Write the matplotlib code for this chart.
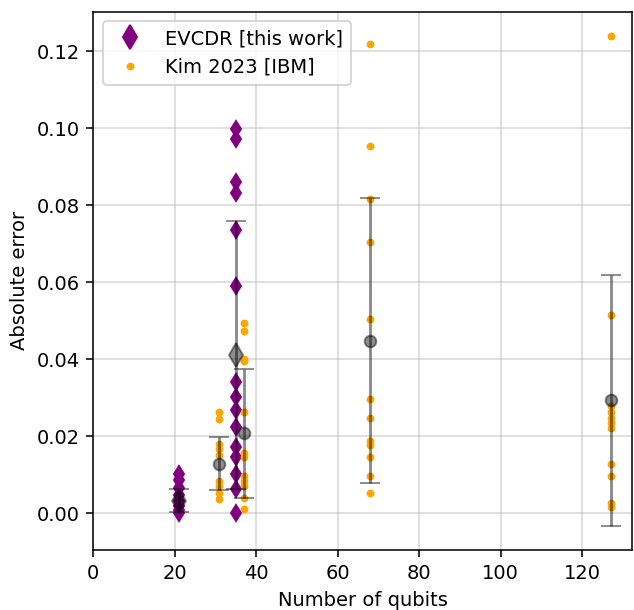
import matplotlib
matplotlib.use('Agg')
import matplotlib.pyplot as plt
from matplotlib.lines import Line2D

# EVCDR [this work] points, per qubit count
evcdr_qubits = [21, 35]
evcdr_21 = [0.0102, 0.0086, 0.0065, 0.0048, 0.0032, 0.0018, 0.0008, 0.0001]
evcdr_35 = [0.0997, 0.0971, 0.0860, 0.0832, 0.0736, 0.0589, 0.0340, 0.0301,
            0.0269, 0.0223, 0.0173, 0.0147, 0.0102, 0.0063, 0.0002]
evcdr_mean = [0.0033, 0.0412]
evcdr_err = [0.0030, 0.0348]

# Kim 2023 [IBM] points
kim_qubits = [31, 37, 68, 127]
kim_31 = [0.0263, 0.0246, 0.0180, 0.0167, 0.0151, 0.0083, 0.0070, 0.0052, 0.0037]
kim_37 = [0.0493, 0.0473, 0.0400, 0.0395, 0.0264, 0.0156, 0.0146, 0.0097,
          0.0084, 0.0070, 0.0040, 0.0012]
kim_68 = [0.1218, 0.0954, 0.0816, 0.0704, 0.0504, 0.0296, 0.0247, 0.0189,
          0.0178, 0.0146, 0.0097, 0.0052]
kim_127 = [0.1239, 0.0515, 0.0280, 0.0262, 0.0248, 0.0234, 0.0221, 0.0128,
           0.0098, 0.0028, 0.0016]
kim_mean = [0.0129, 0.0208, 0.0448, 0.0294]
kim_err = [0.0069, 0.0168, 0.0370, 0.0326]

evcdr_sets = [evcdr_21, evcdr_35]
kim_sets = [kim_31, kim_37, kim_68, kim_127]

fig = plt.figure(figsize=(634 / 140, 610 / 140), dpi=140)
ax = fig.add_axes([0.147, 0.098, 0.85, 0.883])

for q, vals in zip(evcdr_qubits, evcdr_sets):
    ax.plot([q] * len(vals), vals, 'd', color='purple')
for q, vals in zip(kim_qubits, kim_sets):
    ax.plot([q] * len(vals), vals, '.', color='orange')

# mean +- std
ax.errorbar(evcdr_qubits, evcdr_mean, yerr=evcdr_err, fmt='d', ms=9,
            color='k', alpha=0.45, capsize=5)
ax.errorbar(kim_qubits, kim_mean, yerr=kim_err, fmt='o',
            color='k', alpha=0.45, capsize=5)

ax.set_xlim(left=0)
ax.grid(alpha=0.5)
ax.set_xlabel('Number of qubits')
ax.set_ylabel('Absolute error')

handles = [Line2D([], [], marker='d', color='purple', ls='', ms=9),
           Line2D([], [], marker='.', color='orange', ls='')]
ax.legend(handles, ['EVCDR [this work]', 'Kim 2023 [IBM]'], loc='upper left')

fig.savefig('out.png', dpi=140)
